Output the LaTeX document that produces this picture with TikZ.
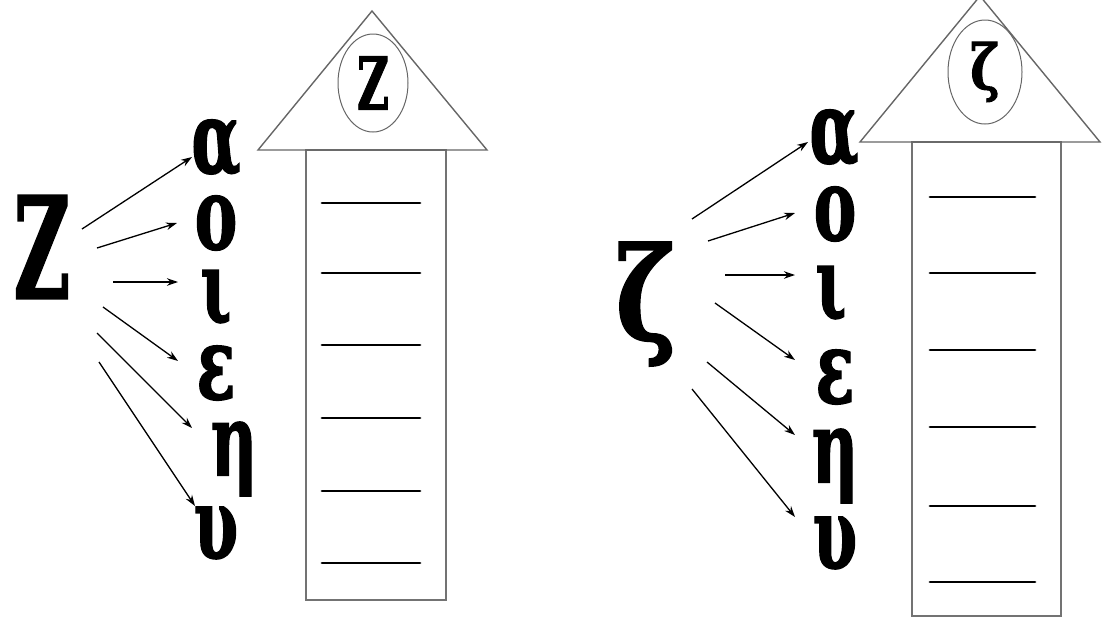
\documentclass[tikz,border=0pt]{standalone}
\usepackage{fontspec}
\setmainfont{DejaVu Serif}
\usetikzlibrary{arrows.meta,shapes.geometric}

\newfontfamily\greekfont{DejaVu Serif}[BoldFeatures={FakeBold=1.6}]
\newcommand\lettersize[1]{\fontsize{#1}{#1}\selectfont}
\newcommand\narrow[2]{\scalebox{#1}[1]{#2}}

\tikzset{
  vowel/.style={inner sep=0pt, font=\greekfont\bfseries\lettersize{100}},
  capital/.style={inner sep=0pt, font=\greekfont\bfseries\lettersize{#1}},
  roof/.style={draw=black!60, line width=1.4pt, line join=miter},
  wall/.style={draw=black!55, line width=1.8pt},
  blank/.style={line width=2.8pt, line cap=round},
  link/.style={-{Stealth[length=11pt,width=7.5pt]}, line width=1.3pt},
  badge/.style={draw=black!60, line width=1pt, ellipse, inner sep=0pt},
}

\begin{document}
\begin{tikzpicture}[x=1pt,y=-1pt]
\clip (0,0) rectangle (1105,619);

% left house
\draw[wall] (306,150) rectangle (446,600);
\draw[roof] (258,150) -- (372,11) -- (487,150) -- cycle;
\node[badge, minimum width=70pt, minimum height=98pt] (roofZ) at (373,83)
  {\greekfont\bfseries\lettersize{73}\narrow{.6}{Z}};
\foreach \y in {203,273,345,418,491,563}
  \draw[blank] (322,\y) -- (420,\y);

\node[capital=141] (bigZ) at (42,247) {\narrow{.55}{Z}};
\node[vowel] (la) at (216,148) {\narrow{.64}{α}};
\node[vowel] (lo) at (216,223) {\narrow{.64}{ο}};
\node[vowel] (li) at (216,298) {\narrow{.64}{ι}};
\node[vowel] (le) at (216,373) {\narrow{.64}{ε}};
\node[vowel] (lh) at (234,459) {\narrow{.64}{η}};
\node[vowel] (lu) at (216,533) {\narrow{.64}{υ}};

\coordinate (zs1) at (82,229);
\coordinate (zs2) at (97,248);
\coordinate (zs3) at (113,282);
\coordinate (zs4) at (103,307);
\coordinate (zs5) at (97,333);
\coordinate (zs6) at (99,362);
\draw[link] (zs1) -- ([shift={(-24,9)}]la.center);
\draw[link] (zs2) -- ([shift={(-39,0)}]lo.center);
\draw[link] (zs3) -- ([shift={(-38,-16)}]li.center);
\draw[link] (zs4) -- ([shift={(-38,-12)}]le.center);
\draw[link] (zs5) -- ([shift={(-42,-31)}]lh.center);
\draw[link] (zs6) -- ([shift={(-21,-27)}]lu.center);

% right house
\draw[wall] (912,142) rectangle (1061,616);
\draw[roof] (860,142) -- (980,-4) -- (1100,142) -- cycle;
\node[badge, minimum width=74pt, minimum height=104pt] (roofzeta) at (985,72)
  {\greekfont\bfseries\lettersize{62}\narrow{.8}{ζ}};
\foreach \y in {197,273,350,427,506,582}
  \draw[blank] (930,\y) -- (1035,\y);

\node[capital=128] (bigzeta) at (646,304) {\narrow{.8}{ζ}};
\node[vowel] (ra) at (834,138) {\narrow{.64}{α}};
\node[vowel] (ro) at (835,214) {\narrow{.64}{ο}};
\node[vowel] (ri) at (831,294) {\narrow{.64}{ι}};
\node[vowel] (re) at (835,377) {\narrow{.64}{ε}};
\node[vowel] (rh) at (835,466) {\narrow{.64}{η}};
\node[vowel] (ru) at (835,543) {\narrow{.64}{υ}};

\coordinate (ks1) at (692,219);
\coordinate (ks2) at (708,241);
\coordinate (ks3) at (725,275);
\coordinate (ks4) at (715,303);
\coordinate (ks5) at (707,362);
\coordinate (ks6) at (692,389);
\draw[link] (ks1) -- ([shift={(-26,4)}]ra.center);
\draw[link] (ks2) -- ([shift={(-40,-1)}]ro.center);
\draw[link] (ks3) -- ([shift={(-36,-19)}]ri.center);
\draw[link] (ks4) -- ([shift={(-40,-17)}]re.center);
\draw[link] (ks5) -- ([shift={(-40,-31)}]rh.center);
\draw[link] (ks6) -- ([shift={(-40,-26)}]ru.center);
\end{tikzpicture}
\end{document}
